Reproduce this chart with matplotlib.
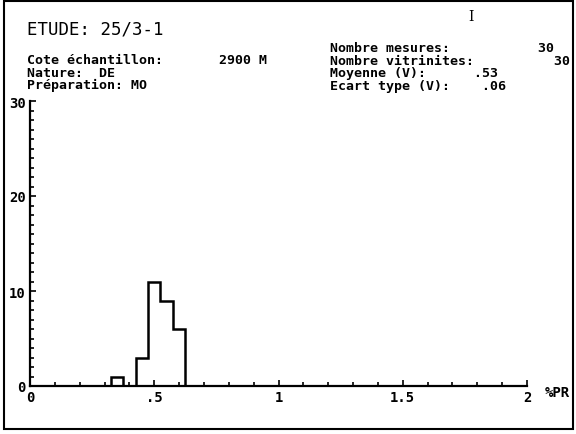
import matplotlib
matplotlib.use("Agg")
import matplotlib.pyplot as plt
import matplotlib.patches as mpatches
from matplotlib.ticker import MultipleLocator, FixedLocator

# ── Data ──────────────────────────────────────────────────────────────────────
bin_edges = [0.325, 0.375, 0.425, 0.475, 0.525, 0.575, 0.625]
counts    = [1, 0, 3, 11, 9, 6]

x_ticks  = [0, 0.5, 1, 1.5, 2]
x_labels = ['0', '.5', '1', '1.5', '2']
y_ticks  = [0, 10, 20, 30]
y_labels = ['0', '10', '20', '30']

# header lines, padded so the values line up in a monospace font
header_left = ["Cote échantillon:       2900 M",
               "Nature:  DE",
               "Préparation: MO"]
header_right = ["Nombre mesures:           30",
                "Nombre vitrinites:          30",
                "Moyenne (V):      .53",
                "Ecart type (V):    .06"]

MONO = 'DejaVu Sans Mono'
W, H = 576, 435
FS = 10
HFS = 9.5

fig = plt.figure(figsize=(W / 100, H / 100), dpi=100)
fig.patch.set_facecolor('white')

# axes placed so 0..2 spans px 30..527 and 0..30 spans px 387..102
ax = fig.add_axes([30 / W, (H - 387) / H, 497 / W, 285 / H])
ax.set_xlim(0, 2)
ax.set_ylim(0, 30)
ax.patch.set_alpha(0)

ax.stairs(counts, bin_edges, color='black', linewidth=1.8, baseline=0)

for s in ['top', 'right']:
    ax.spines[s].set_visible(False)
for s in ['left', 'bottom']:
    ax.spines[s].set_linewidth(1.6)

ax.xaxis.set_major_locator(FixedLocator(x_ticks))
ax.xaxis.set_minor_locator(MultipleLocator(0.1))
ax.yaxis.set_major_locator(FixedLocator(y_ticks))
ax.yaxis.set_minor_locator(MultipleLocator(1))
ax.set_xticklabels(x_labels, fontfamily=MONO, fontsize=FS, fontweight='bold')
ax.set_yticklabels(y_labels, fontfamily=MONO, fontsize=FS, fontweight='bold')
ax.tick_params(which='both', direction='in', width=1.2, color='black')
ax.tick_params(which='major', length=4, pad=3)
ax.tick_params(which='minor', length=3)
ax.tick_params(axis='y', pad=3)

ax.text(2.07, -0.6, '%PR', fontfamily=MONO, fontsize=FS, fontweight='bold',
        ha='left', va='center', clip_on=False)

# ── Header text ───────────────────────────────────────────────────────────────
def ftext(px, py, s, **kw):
    fig.text(px / W, 1 - py / H, s, fontfamily=MONO, ha='left', **kw)

ftext(27, 30, "ETUDE: 25/3-1", fontsize=12.5, va='center')
fig.text(468 / W, 1 - 17 / H, "I", fontfamily='DejaVu Serif', fontsize=10,
         va='center', ha='left')

ftext(27, 54, "\n".join(header_left), fontsize=HFS, fontweight='bold',
      va='top', linespacing=0.97)
ftext(330, 42, "\n".join(header_right), fontsize=HFS, fontweight='bold',
      va='top', linespacing=0.97)

# ── Outer frame ───────────────────────────────────────────────────────────────
fig.patches.append(mpatches.Rectangle((4 / W, 5 / H), 569 / W, 428 / H,
                                      transform=fig.transFigure, fill=False,
                                      edgecolor='black', linewidth=1.5))

fig.savefig('out.png', dpi=100)
